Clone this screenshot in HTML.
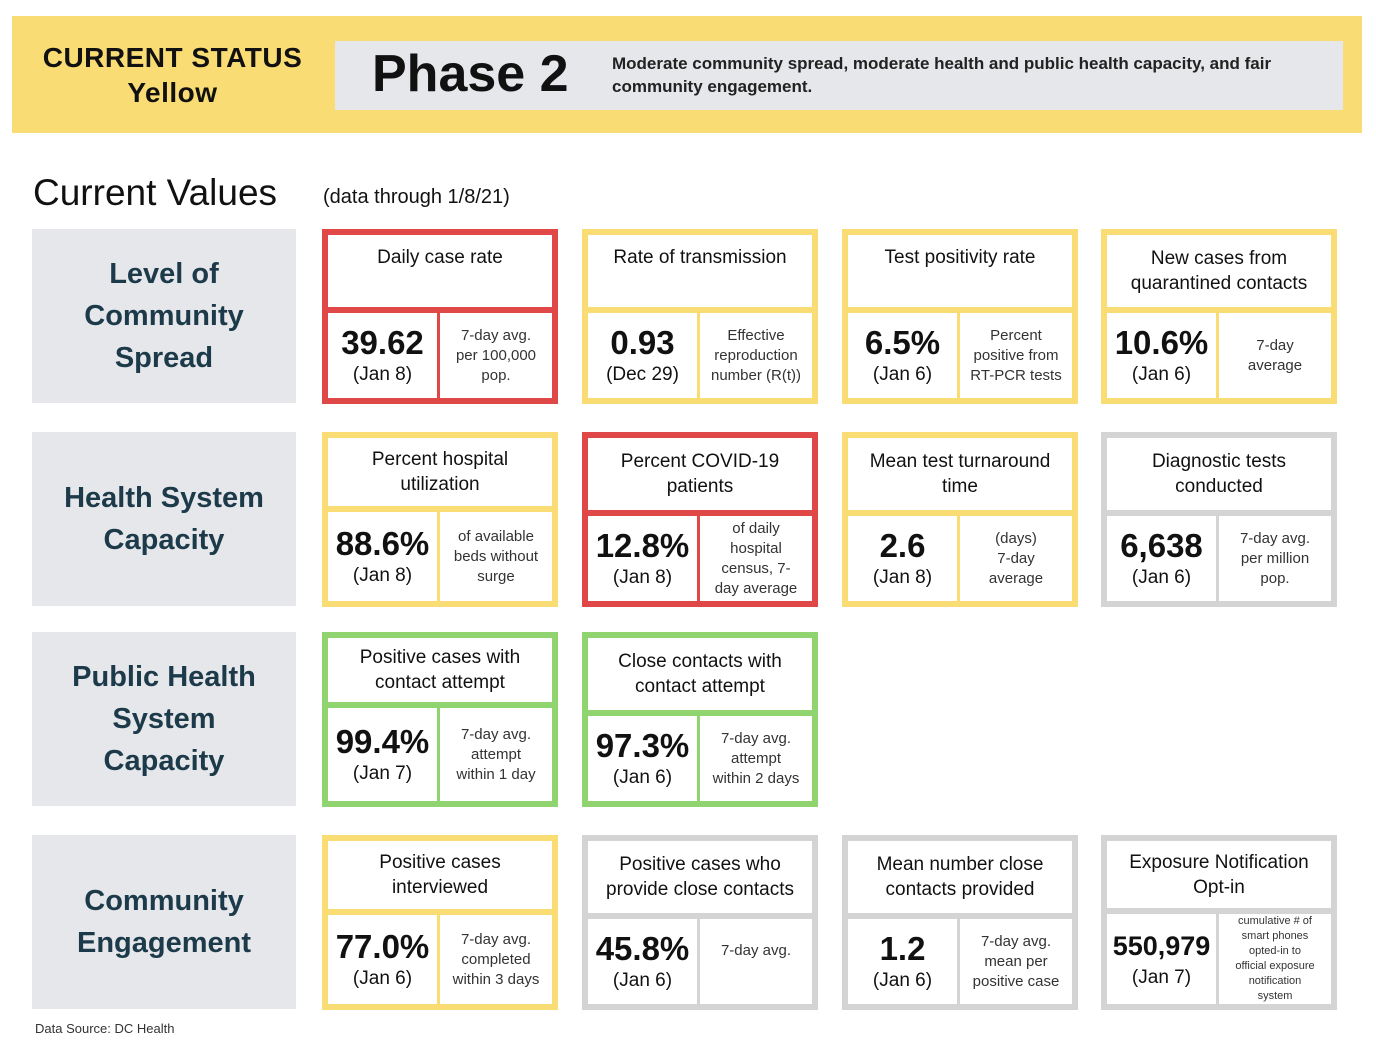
<!DOCTYPE html>
<html><head><meta charset="utf-8">
<style>
*{box-sizing:border-box;margin:0;padding:0}
body{width:1376px;height:1048px;background:#fff;position:relative;font-family:"Liberation Sans",sans-serif;color:#111;overflow:hidden}
.abs{position:absolute}
.banner{left:12px;top:16px;width:1350px;height:117px;background:#f9dc74}
.status{left:20px;top:40px;width:305px;text-align:center;font-weight:bold;font-size:28px;line-height:35px;letter-spacing:0.5px}
.phasebox{left:335px;top:41px;width:1008px;height:69px;background:#e6e7ea}
.phase{left:372px;top:44px;font-weight:bold;font-size:52px;line-height:60px}
.desc{left:612px;top:52px;font-size:17px;line-height:23px;font-weight:bold;color:#222;width:700px}
.cv{left:33px;top:170px;font-size:37px;line-height:46px}
.dt{left:323px;top:184px;font-size:20px;line-height:26px}
.rl{left:32px;width:264px;height:174px;background:#e6e7ea;display:flex;align-items:center;justify-content:center;text-align:center;color:#1c3a4a;font-weight:bold;font-size:29px;line-height:42px}
.card{position:absolute;width:236px;height:175px;border:6px solid;display:flex;flex-direction:column;background:#fff}
.card .t{border-bottom:6px solid;border-bottom-color:inherit;display:flex;align-items:center;justify-content:center;text-align:center;font-size:19px;line-height:25px;padding:0 4px}
.card .b{flex:1;display:flex;border-color:inherit}
.card .v{width:112px;border-right:3px solid;border-right-color:inherit;display:flex;flex-direction:column;align-items:center;justify-content:center;text-align:center}
.card .v .n{font-weight:bold;font-size:33px;line-height:38px;white-space:nowrap}
.card .v .d{font-size:19px;line-height:26px}
.card .r{flex:1;display:flex;align-items:center;justify-content:center;text-align:center;font-size:15px;line-height:20px;color:#333;padding:0 2px}
.red{border-color:#e04848}
.yel{border-color:#f9dc74}
.grn{border-color:#8fd46e}
.gry{border-color:#d4d4d4}
.src{left:35px;top:1021px;font-size:13px;color:#333}
</style></head><body>
<div class="abs banner"></div>
<div class="abs status">CURRENT STATUS<br>Yellow</div>
<div class="abs phasebox"></div>
<div class="abs phase">Phase 2</div>
<div class="abs desc">Moderate community spread, moderate health and public health capacity, and fair community engagement.</div>
<div class="abs cv">Current Values</div>
<div class="abs dt">(data through 1/8/21)</div>

<div class="abs rl" style="top:229px">Level of<br>Community<br>Spread</div>
<div class="abs rl" style="top:432px">Health System<br>Capacity</div>
<div class="abs rl" style="top:632px">Public Health<br>System<br>Capacity</div>
<div class="abs rl" style="top:835px">Community<br>Engagement</div>

<div class="card red" style="left:322px;top:229px"><div class="t" style="height:78px;align-items:flex-start;padding-top:10px">Daily case rate</div><div class="b"><div class="v"><div class="n">39.62</div><div class="d">(Jan 8)</div></div><div class="r">7-day avg.<br>per 100,000<br>pop.</div></div></div>
<div class="card yel" style="left:582px;top:229px"><div class="t" style="height:78px;align-items:flex-start;padding-top:10px">Rate of transmission</div><div class="b"><div class="v"><div class="n">0.93</div><div class="d">(Dec 29)</div></div><div class="r">Effective<br>reproduction<br>number (R(t))</div></div></div>
<div class="card yel" style="left:842px;top:229px"><div class="t" style="height:78px;align-items:flex-start;padding-top:10px">Test positivity rate</div><div class="b"><div class="v"><div class="n">6.5%</div><div class="d">(Jan 6)</div></div><div class="r">Percent<br>positive from<br>RT-PCR tests</div></div></div>
<div class="card yel" style="left:1101px;top:229px"><div class="t" style="height:78px">New cases from<br>quarantined contacts</div><div class="b"><div class="v"><div class="n">10.6%</div><div class="d">(Jan 6)</div></div><div class="r">7-day<br>average</div></div></div>

<div class="card yel" style="left:322px;top:432px"><div class="t" style="height:74px">Percent hospital<br>utilization</div><div class="b"><div class="v"><div class="n">88.6%</div><div class="d">(Jan 8)</div></div><div class="r">of available<br>beds without<br>surge</div></div></div>
<div class="card red" style="left:582px;top:432px"><div class="t" style="height:78px">Percent COVID-19<br>patients</div><div class="b"><div class="v"><div class="n">12.8%</div><div class="d">(Jan 8)</div></div><div class="r">of daily<br>hospital<br>census, 7-<br>day average</div></div></div>
<div class="card yel" style="left:842px;top:432px"><div class="t" style="height:78px">Mean test turnaround<br>time</div><div class="b"><div class="v"><div class="n">2.6</div><div class="d">(Jan 8)</div></div><div class="r">(days)<br>7-day<br>average</div></div></div>
<div class="card gry" style="left:1101px;top:432px"><div class="t" style="height:78px">Diagnostic tests<br>conducted</div><div class="b"><div class="v"><div class="n">6,638</div><div class="d">(Jan 6)</div></div><div class="r">7-day avg.<br>per million<br>pop.</div></div></div>

<div class="card grn" style="left:322px;top:632px"><div class="t" style="height:70px">Positive cases with<br>contact attempt</div><div class="b"><div class="v"><div class="n">99.4%</div><div class="d">(Jan 7)</div></div><div class="r">7-day avg.<br>attempt<br>within 1 day</div></div></div>
<div class="card grn" style="left:582px;top:632px"><div class="t" style="height:78px">Close contacts with<br>contact attempt</div><div class="b"><div class="v"><div class="n">97.3%</div><div class="d">(Jan 6)</div></div><div class="r">7-day avg.<br>attempt<br>within 2 days</div></div></div>

<div class="card yel" style="left:322px;top:835px"><div class="t" style="height:74px">Positive cases<br>interviewed</div><div class="b"><div class="v"><div class="n">77.0%</div><div class="d">(Jan 6)</div></div><div class="r">7-day avg.<br>completed<br>within 3 days</div></div></div>
<div class="card gry" style="left:582px;top:835px"><div class="t" style="height:78px">Positive cases who<br>provide close contacts</div><div class="b"><div class="v"><div class="n">45.8%</div><div class="d">(Jan 6)</div></div><div class="r" style="align-items:flex-start;padding-top:22px">7-day avg.</div></div></div>
<div class="card gry" style="left:842px;top:835px"><div class="t" style="height:78px">Mean number close<br>contacts provided</div><div class="b"><div class="v"><div class="n">1.2</div><div class="d">(Jan 6)</div></div><div class="r">7-day avg.<br>mean per<br>positive case</div></div></div>
<div class="card gry" style="left:1101px;top:835px"><div class="t" style="height:78px">Exposure Notification<br>Opt-in</div><div class="b"><div class="v"><div class="n" style="font-size:27px">550,979</div><div class="d">(Jan 7)</div></div><div class="r" style="font-size:11px;line-height:15px">cumulative # of<br>smart phones<br>opted-in to<br>official exposure<br>notification<br>system</div></div></div>

<div class="abs src">Data Source: DC Health</div>
</body></html>
